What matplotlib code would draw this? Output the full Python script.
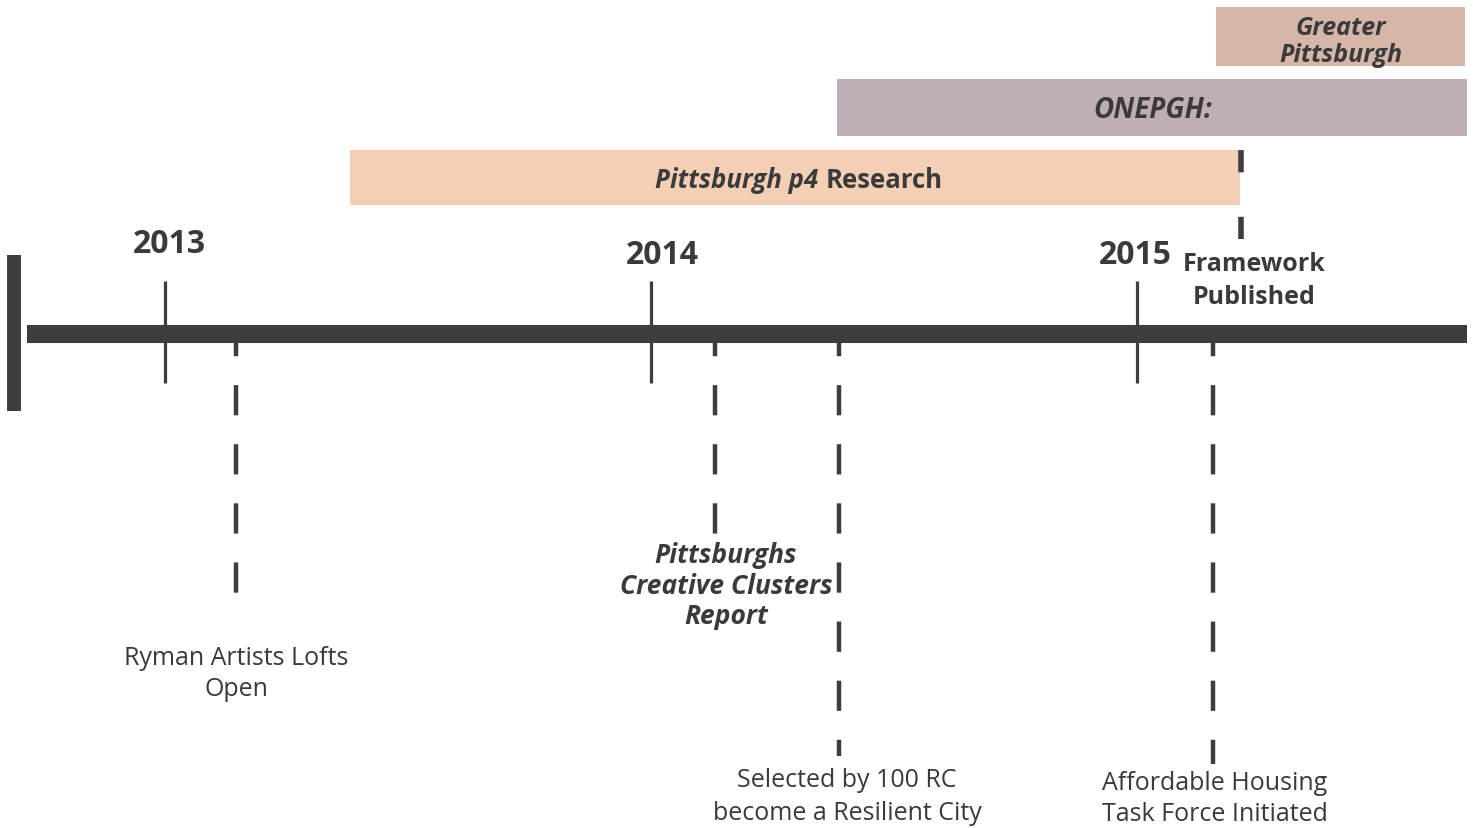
import matplotlib.pyplot as plt

plt.rcParams['font.family'] = ['Open Sans', 'DejaVu Sans']

# --- données ---
years = [2013, 2014, 2015]
timeline_start = 2012.69
timeline_end = 2015.68

bar_labels = ["Greater\nPittsburgh", "ONEPGH:", "Pittsburgh p4 Research"]
bar_starts = [2015.163, 2014.383, 2013.381]
bar_ends = [2015.675, 2015.68, 2015.212]
bar_colors = ["#d6b6a9", "#bfadb8", "#f2cfb5"]

event_labels = ["Ryman Artists Lofts\nOpen",
                "Pittsburghs\nCreative Clusters\nReport",
                "Selected by 100 RC\nbecome a Resilient City",
                "Affordable Housing\nTask Force Initiated",
                "Framework\nPublished"]
event_dates = [2013.146, 2014.132, 2014.387, 2015.156, 2015.214]

# --- échelle: 486 px par an, 2013 à x=165 px ---
PX_AN = 486.0
def px(x):
    return 2013 + (x - 165) / PX_AN

dark = "#3d3d3d"
txt = "#3a3a3a"

fig = plt.figure(figsize=(14.73, 8.29), dpi=100)
ax = fig.add_axes([0, 0, 1, 1])
ax.set_xlim(px(0), px(1473))
ax.set_ylim(829, 0)
ax.axis("off")

# --- barres des projets ---
bar_y = [37.5, 108.5, 178]
bar_h = [59, 57, 55]
for lab, s, e, c, y, h in zip(bar_labels, bar_starts, bar_ends, bar_colors, bar_y, bar_h):
    ax.barh(y, e - s, left=s, height=h, color=c, zorder=1)

mid = (bar_starts[0] + bar_ends[0]) / 2
ax.text(mid, 42, bar_labels[0], ha="center", va="center", fontsize=18,
        fontweight="bold", fontstyle="italic", color=txt, linespacing=1.15)
mid = (bar_starts[1] + bar_ends[1]) / 2
ax.text(mid, 110, bar_labels[1], ha="center", va="center", fontsize=20,
        fontweight="bold", fontstyle="italic", color=txt)
ax.text(px(818), 180, "Pittsburgh p4", ha="right", va="center", fontsize=18.5,
        fontweight="bold", fontstyle="italic", color=txt)
ax.text(px(826), 180, "Research", ha="left", va="center", fontsize=18.5,
        fontweight="bold", color=txt)

# --- lignes pointillées des événements ---
ends = [620, 535, 757, 765]
for d, e in zip(event_dates[:4], ends):
    ax.plot([d, d], [327, e], color=dark, lw=3.2, linestyle=(0, (6.8, 6.5)),
            dash_capstyle="butt", zorder=2)
ax.plot([event_dates[4]] * 2, [240, 150], color=dark, lw=4,
        linestyle=(0, (4, 8)), dash_capstyle="butt", zorder=2)

# --- axe principal ---
ax.plot([px(27), timeline_end], [335, 335], color=dark, lw=13,
        solid_capstyle="butt", zorder=3)
ax.plot([timeline_start, timeline_start], [256, 412], color=dark, lw=10,
        solid_capstyle="butt", zorder=3)
for yr in years:
    ax.plot([yr, yr], [282, 384], color=dark, lw=2.3, solid_capstyle="butt", zorder=4)

year_pos = [(px(169), 244), (px(662), 255), (px(1135), 255)]
for yr, (x, y) in zip(years, year_pos):
    ax.text(x, y, str(yr), ha="center", va="center", fontsize=23,
            fontweight="bold", color=txt)

# --- libellés des événements ---
ax.text(px(236), 674, event_labels[0], ha="center", va="center", fontsize=18,
        color=txt, linespacing=1.3)
ax.text(px(726), 586, event_labels[1], ha="center", va="center", fontsize=19,
        fontweight="bold", fontstyle="italic", color=txt, linespacing=1.18)
ax.text(px(847), 797, event_labels[2], ha="center", va="center", fontsize=18,
        color=txt, linespacing=1.4)
ax.text(px(1215), 799, event_labels[3], ha="center", va="center", fontsize=18,
        color=txt, linespacing=1.35)
ax.text(px(1254), 281, event_labels[4], ha="center", va="center", fontsize=18,
        fontweight="bold", color=txt, linespacing=1.4)

fig.savefig("out.png", dpi=100, facecolor="white")
